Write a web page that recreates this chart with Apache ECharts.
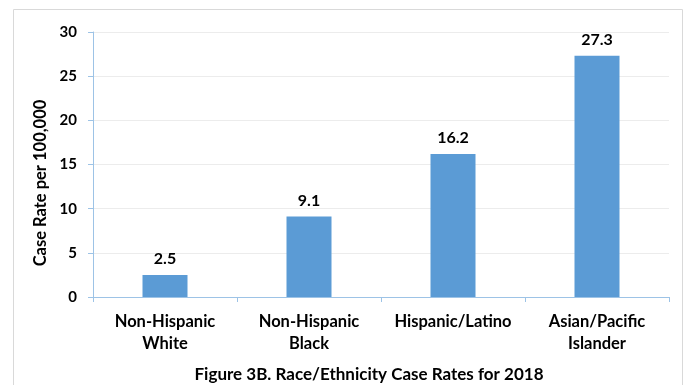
<!DOCTYPE html>
<html>
<head>
<meta charset="utf-8">
<script src="https://cdn.jsdelivr.net/npm/echarts@6/dist/echarts.min.js"></script>
<style>
  html, body { margin: 0; padding: 0; background: #fff; }
  #main { width: 686px; height: 385px; }
</style>
</head>
<body>
<div id="main"></div>
<script>
var groups = ['Non-Hispanic\nWhite', 'Non-Hispanic\nBlack', 'Hispanic/Latino', 'Asian/Pacific\nIslander'];
var rates = [2.5, 9.1, 16.2, 27.3];
var yTicks = [0, 5, 10, 15, 20, 25, 30];
var chartTitle = 'Figure 3B. Race/Ethnicity Case Rates for 2018';
var yName = 'Case Rate per 100,000';

var font = 'Lato, "Open Sans", sans-serif';
var myChart = echarts.init(document.getElementById('main'));
myChart.setOption({
  animation: false,
  title: {
    text: chartTitle,
    left: 364, top: 361, textAlign: 'center',
    textStyle: { fontFamily: font, fontSize: 17, fontWeight: 'bold', color: '#000' }
  },
  graphic: [{
    type: 'rect',
    shape: { x: 13.5, y: 9.5, width: 669, height: 400 },
    style: { fill: 'none', stroke: '#d9d9d9', lineWidth: 1 },
    silent: true
  }, {
    // axis title sits a bit below the plot middle in the original
    type: 'text',
    x: 41, y: 183, rotation: Math.PI / 2,
    style: {
      text: yName, align: 'center', verticalAlign: 'middle',
      font: 'bold 16.5px ' + font, fill: '#000'
    },
    silent: true
  }],
  grid: { left: 93, right: 17, top: 32, bottom: 88 },
  xAxis: {
    type: 'category',
    data: groups,
    axisLine: { lineStyle: { color: '#9dc3e6' } },
    axisTick: { show: true, length: 5, lineStyle: { color: '#9dc3e6' } },
    axisLabel: {
      interval: 0, margin: 14, lineHeight: 22,
      fontFamily: font, fontSize: 16.5, fontWeight: 'bold', color: '#000'
    }
  },
  yAxis: {
    type: 'value',
    min: yTicks[0], max: yTicks[yTicks.length - 1], interval: 5,
    axisLine: { show: true, lineStyle: { color: '#9dc3e6' } },
    axisTick: { show: true, length: 5, lineStyle: { color: '#9dc3e6' } },
    splitLine: { lineStyle: { color: '#ececec' } },
    axisLabel: { margin: 16, fontFamily: font, fontSize: 15, fontWeight: 'bold', color: '#000' }
  },
  series: [{
    type: 'bar',
    data: rates,
    barWidth: 45,
    itemStyle: { color: '#5b9bd5' },
    label: {
      show: true, position: 'top', distance: 8,
      fontFamily: font, fontSize: 16, fontWeight: 'bold', color: '#000'
    }
  }]
});
</script>
</body>
</html>
